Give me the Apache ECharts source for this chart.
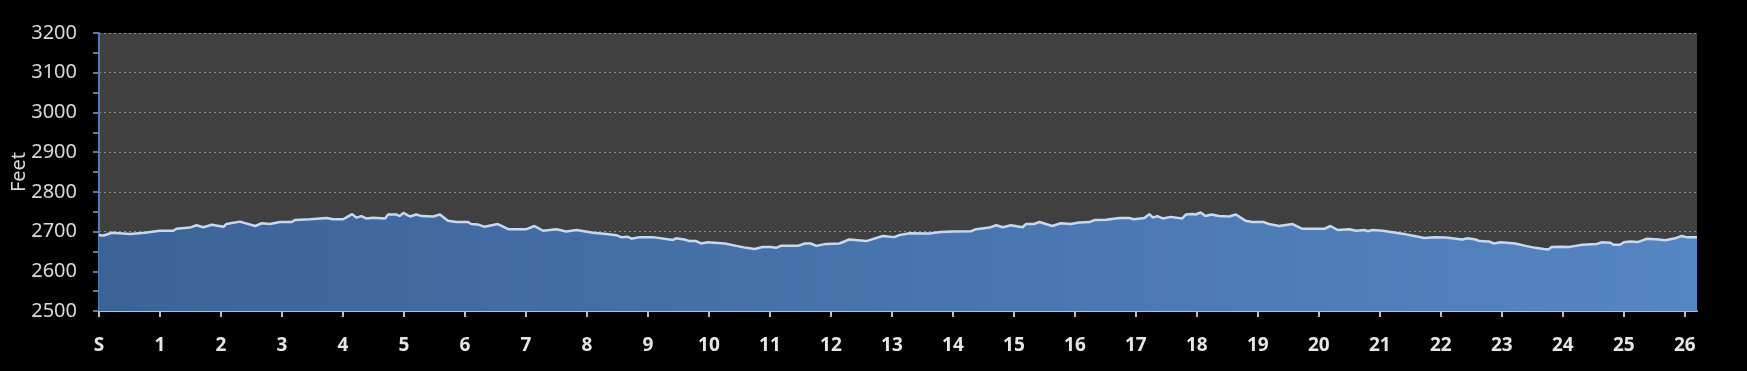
<!DOCTYPE html>
<html><head><meta charset="utf-8">
<script src="https://cdn.jsdelivr.net/npm/echarts@6/dist/echarts.min.js"></script>
<style>html,body{margin:0;padding:0;background:#000;}#c{width:1747px;height:371px;}</style>
</head><body><div id="c"></div>
<script>
const miles = [0.00,0.08,0.21,0.51,0.75,1.00,1.22,1.27,1.49,1.60,1.71,1.85,2.04,2.09,2.31,2.56,2.67,2.80,2.97,3.16,3.21,3.46,3.73,3.84,4.00,4.05,4.15,4.22,4.30,4.38,4.49,4.69,4.74,4.88,4.93,4.99,5.10,5.20,5.29,5.48,5.59,5.72,5.86,6.05,6.10,6.21,6.32,6.54,6.71,7.01,7.14,7.28,7.50,7.66,7.83,8.10,8.32,8.48,8.56,8.67,8.73,8.86,9.08,9.41,9.46,9.60,9.68,9.79,9.87,9.98,10.26,10.45,10.61,10.75,10.88,11.02,11.10,11.18,11.46,11.57,11.67,11.76,11.92,12.14,12.30,12.58,12.85,13.04,13.12,13.29,13.61,13.80,14.00,14.30,14.38,14.60,14.71,14.82,14.95,15.14,15.20,15.33,15.42,15.63,15.77,15.93,16.07,16.24,16.32,16.51,16.73,16.89,16.97,17.14,17.22,17.28,17.35,17.44,17.57,17.76,17.82,17.93,17.98,18.06,18.14,18.24,18.36,18.53,18.64,18.80,18.91,19.10,19.18,19.35,19.57,19.73,20.09,20.19,20.31,20.50,20.61,20.75,20.80,20.88,21.05,21.26,21.43,21.59,21.73,21.89,22.08,22.35,22.44,22.57,22.63,22.79,22.87,22.98,23.22,23.39,23.55,23.69,23.77,23.81,23.96,24.10,24.21,24.32,24.56,24.64,24.78,24.83,24.94,25.00,25.10,25.24,25.38,25.57,25.68,25.84,25.95,26.03,26.20];
const feet = [2691,2690,2697,2694,2697,2702,2702,2707,2710,2716,2711,2717,2712,2719,2725,2714,2721,2719,2724,2724,2729,2731,2734,2731,2731,2735,2744,2735,2739,2733,2735,2733,2743,2743,2739,2747,2738,2743,2739,2738,2743,2727,2724,2724,2719,2718,2712,2719,2706,2706,2714,2702,2706,2700,2704,2697,2694,2691,2686,2687,2682,2686,2686,2679,2683,2680,2676,2676,2670,2673,2670,2664,2659,2656,2661,2661,2659,2664,2664,2670,2670,2664,2669,2670,2680,2676,2689,2686,2691,2696,2695,2699,2700,2701,2706,2710,2716,2711,2716,2711,2719,2719,2724,2714,2721,2719,2723,2724,2729,2730,2734,2734,2731,2734,2744,2735,2739,2733,2737,2733,2743,2744,2743,2748,2739,2743,2739,2738,2743,2727,2724,2724,2719,2714,2719,2707,2707,2714,2704,2706,2702,2704,2701,2704,2702,2697,2693,2688,2684,2686,2685,2680,2683,2680,2676,2675,2670,2673,2670,2664,2659,2656,2655,2661,2662,2661,2664,2667,2669,2673,2672,2667,2667,2673,2675,2674,2682,2680,2678,2683,2689,2686,2686];
const mileTicks = [0,1,2,3,4,5,6,7,8,9,10,11,12,13,14,15,16,17,18,19,20,21,22,23,24,25,26];
const mileTickLabels = ['S','1','2','3','4','5','6','7','8','9','10','11','12','13','14','15','16','17','18','19','20','21','22','23','24','25','26'];

const chart = echarts.init(document.getElementById('c'));
const data = miles.map((m, i) => [m, feet[i]]);
chart.setOption({
  backgroundColor: '#000000',
  animation: false,
  grid: { left: 99, right: 50, top: 33, bottom: 60, show: true, backgroundColor: '#404040', borderWidth: 0,
    containLabel: false, outerBoundsMode: 'none' },
  xAxis: {
    type: 'value', min: 0, max: 26.2, interval: 1,
    axisLine: { show: true, lineStyle: { color: '#bfbfbf', width: 2 } },
    axisTick: { show: true, customValues: mileTicks, length: 6, lineStyle: { color: '#bfbfbf', width: 2 } },
    axisLabel: { customValues: mileTicks, color: '#e6e6e6', fontFamily: 'Noto Sans', fontWeight: 'bold', fontSize: 19, margin: 25,
      formatter: v => mileTickLabels[mileTicks.indexOf(Math.round(v))] },
    splitLine: { show: false }
  },
  yAxis: {
    type: 'value', min: 2500, max: 3200, interval: 100,
    name: 'Feet', nameLocation: 'middle', nameGap: 70, nameRotate: 90, nameMoveOverlap: false,
    nameTextStyle: { color: '#d9d9d9', fontFamily: 'Noto Sans', fontSize: 20 },
    axisLine: { show: true, lineStyle: { color: '#4a7ebb', width: 2 } },
    axisTick: { show: true, length: 6, lineStyle: { color: '#4a7ebb', width: 2 } },
    minorTick: { show: true, splitNumber: 2, length: 6, lineStyle: { color: '#4a7ebb', width: 2 } },
    axisLabel: { color: '#d9d9d9', fontFamily: 'Noto Sans', fontSize: 20, margin: 22, formatter: v => String(v) },
    splitLine: { show: true, lineStyle: { color: '#8c8c8c', type: [2, 3], width: 1 } }
  },
  series: [{
    type: 'line', data: data, showSymbol: false, smooth: false,
    lineStyle: { color: '#c6d9f1', width: 2.5 },
    areaStyle: { origin: 'start', opacity: 1,
      color: new echarts.graphic.LinearGradient(0, 0, 1, 0, [
        { offset: 0, color: '#3b6398' }, { offset: 1, color: '#5585c2' }]) }
  }]
});
</script></body></html>
